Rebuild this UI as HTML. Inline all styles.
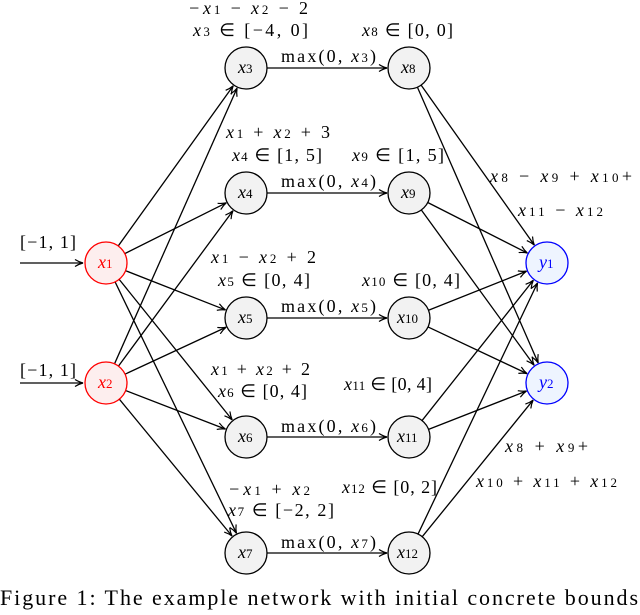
<!DOCTYPE html>
<html><head><meta charset="utf-8"><style>
body{margin:0;background:#fff;width:640px;height:610px;overflow:hidden}
svg text{font-family:"Liberation Serif",serif;font-size:18px}
.v{font-style:italic}
</style></head><body>
<svg id="s" width="640" height="610" xmlns="http://www.w3.org/2000/svg">
<defs><marker id="a" markerWidth="10" markerHeight="8" refX="9" refY="4" orient="auto" markerUnits="userSpaceOnUse"><path d="M1,0.5 Q5,3 9,4 Q5,5 1,7.5" fill="none" stroke="#000" stroke-width="1.2"/></marker></defs>
<g id="edges" stroke="#000" stroke-width="1.3" fill="none"></g>
<line x1="20" y1="263" x2="83" y2="263" stroke="#000" stroke-width="1.3" marker-end="url(#a)"/>
<line x1="20" y1="383" x2="83" y2="383" stroke="#000" stroke-width="1.3" marker-end="url(#a)"/>
<g id="nodes"></g>
<g lengthAdjust="spacing">
<text x="20" y="248" textLength="56">[−1, 1]</text>
<text x="20" y="376" textLength="56">[−1, 1]</text>
<text x="188" y="14" textLength="120"><tspan class="v">−x</tspan><tspan font-size="13">1</tspan> − <tspan class="v">x</tspan><tspan font-size="13">2</tspan> − 2</text>
<text x="193" y="36" textLength="115"><tspan class="v">x</tspan><tspan font-size="13">3</tspan> ∈ [−4, 0]</text>
<text x="362" y="36" textLength="91"><tspan class="v">x</tspan><tspan font-size="13">8</tspan> ∈ [0, 0]</text>
<text x="281" y="62" textLength="95">max(0, <tspan class="v">x</tspan><tspan font-size="13">3</tspan>)</text>
<text x="226" y="138" textLength="104"><tspan class="v">x</tspan><tspan font-size="13">1</tspan> + <tspan class="v">x</tspan><tspan font-size="13">2</tspan> + 3</text>
<text x="232" y="161" textLength="90"><tspan class="v">x</tspan><tspan font-size="13">4</tspan> ∈ [1, 5]</text>
<text x="352" y="161" textLength="92"><tspan class="v">x</tspan><tspan font-size="13">9</tspan> ∈ [1, 5]</text>
<text x="281" y="187" textLength="95">max(0, <tspan class="v">x</tspan><tspan font-size="13">4</tspan>)</text>
<text x="490" y="182" textLength="142"><tspan class="v">x</tspan><tspan font-size="13">8</tspan> − <tspan class="v">x</tspan><tspan font-size="13">9</tspan> + <tspan class="v">x</tspan><tspan font-size="13">10</tspan>+</text>
<text x="518" y="216" textLength="85"><tspan class="v">x</tspan><tspan font-size="13">11</tspan> − <tspan class="v">x</tspan><tspan font-size="13">12</tspan></text>
<text x="211" y="263" textLength="105"><tspan class="v">x</tspan><tspan font-size="13">1</tspan> − <tspan class="v">x</tspan><tspan font-size="13">2</tspan> + 2</text>
<text x="218" y="286" textLength="92"><tspan class="v">x</tspan><tspan font-size="13">5</tspan> ∈ [0, 4]</text>
<text x="362" y="286" textLength="98"><tspan class="v">x</tspan><tspan font-size="13">10</tspan> ∈ [0, 4]</text>
<text x="281" y="312" textLength="95">max(0, <tspan class="v">x</tspan><tspan font-size="13">5</tspan>)</text>
<text x="211" y="375" textLength="99"><tspan class="v">x</tspan><tspan font-size="13">1</tspan> + <tspan class="v">x</tspan><tspan font-size="13">2</tspan> + 2</text>
<text x="218" y="397" textLength="89"><tspan class="v">x</tspan><tspan font-size="13">6</tspan> ∈ [0, 4]</text>
<text x="344" y="390" textLength="88"><tspan class="v">x</tspan><tspan font-size="13">11</tspan> ∈ [0, 4]</text>
<text x="281" y="432" textLength="95">max(0, <tspan class="v">x</tspan><tspan font-size="13">6</tspan>)</text>
<text x="505" y="452" textLength="83"><tspan class="v">x</tspan><tspan font-size="13">8</tspan> + <tspan class="v">x</tspan><tspan font-size="13">9</tspan>+</text>
<text x="476" y="487" textLength="141"><tspan class="v">x</tspan><tspan font-size="13">10</tspan> + <tspan class="v">x</tspan><tspan font-size="13">11</tspan> + <tspan class="v">x</tspan><tspan font-size="13">12</tspan></text>
<text x="228" y="495" textLength="82"><tspan class="v">−x</tspan><tspan font-size="13">1</tspan> + <tspan class="v">x</tspan><tspan font-size="13">2</tspan></text>
<text x="228" y="516" textLength="106"><tspan class="v">x</tspan><tspan font-size="13">7</tspan> ∈ [−2, 2]</text>
<text x="342" y="493" textLength="95"><tspan class="v">x</tspan><tspan font-size="13">12</tspan> ∈ [0, 2]</text>
<text x="281" y="548" textLength="95">max(0, <tspan class="v">x</tspan><tspan font-size="13">7</tspan>)</text>
<text x="0" y="605" textLength="638" style="font-size:22px">Figure 1: The example network with initial concrete bounds</text>
</g>
</svg>
<script>
var N={x1:[106,263,'r'],x2:[106,383,'r'],x3:[246,68],x4:[246,193],x5:[246,318],x6:[246,437],x7:[246,553],
x8:[409,68],x9:[409,193],x10:[409,318],x11:[409,437],x12:[409,553],y1:[547,263,'b'],y2:[547,383,'b']};
var R=21,E=[],ns='http://www.w3.org/2000/svg';
['x1','x2'].forEach(a=>['x3','x4','x5','x6','x7'].forEach(b=>E.push([a,b])));
for(var i=3;i<=7;i++)E.push(['x'+i,'x'+(i+5)]);
for(var i=8;i<=12;i++){E.push(['x'+i,'y1']);E.push(['x'+i,'y2']);}
var g=document.getElementById('edges');
E.forEach(e=>{var a=N[e[0]],b=N[e[1]],dx=b[0]-a[0],dy=b[1]-a[1],d=Math.hypot(dx,dy),ux=dx/d,uy=dy/d;
var l=document.createElementNS(ns,'line');l.setAttribute('x1',a[0]+ux*R);l.setAttribute('y1',a[1]+uy*R);
l.setAttribute('x2',b[0]-ux*(R+1));l.setAttribute('y2',b[1]-uy*(R+1));l.setAttribute('marker-end','url(#a)');g.appendChild(l);});
var gn=document.getElementById('nodes');
for(var k in N){var n=N[k],c=document.createElementNS(ns,'circle');c.setAttribute('cx',n[0]);c.setAttribute('cy',n[1]);c.setAttribute('r',R);
var col=n[2]=='r'?'#f00':n[2]=='b'?'#00f':'#000',fill=n[2]=='r'?'#fdeeee':n[2]=='b'?'#eef4ff':'#f2f2f2';
c.setAttribute('fill',fill);c.setAttribute('stroke',col);c.setAttribute('stroke-width','1.3');gn.appendChild(c);
var t=document.createElementNS(ns,'text');t.setAttribute('x',n[0]-(k.length>2?12:8));t.setAttribute('y',n[1]+5);t.setAttribute('fill',col);
t.innerHTML='<tspan font-style="italic">'+k[0]+'</tspan><tspan font-size="13">'+k.slice(1)+'</tspan>';gn.appendChild(t);}
</script>
</body></html>
